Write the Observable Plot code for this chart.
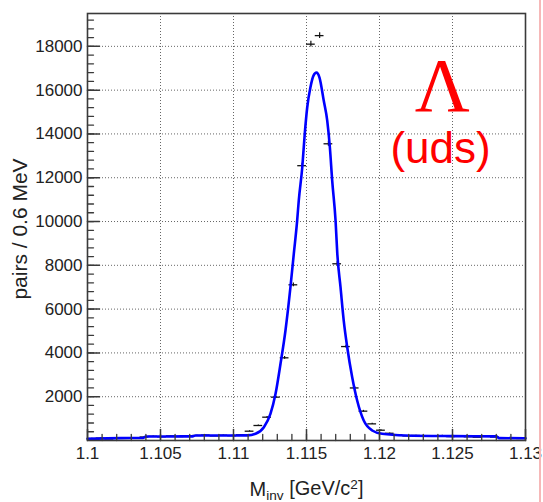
<!DOCTYPE html>
<html><head><meta charset="utf-8">
<script src="https://cdn.jsdelivr.net/npm/d3@7"></script>
<script src="https://cdn.jsdelivr.net/npm/@observablehq/plot@0.6"></script>
<style>
html,body{margin:0;padding:0;background:#fff;}
#chart{position:relative;width:543px;height:502px;overflow:hidden;}
#edge{position:absolute;left:539px;top:0;width:2px;height:502px;background:#f6b8b8;}
</style></head><body>
<div id="chart"></div>
<script>
// Histogram bins (GeV) and counts per 0.6 MeV
const binCenters = [1.1003,1.1009,1.1015,1.1021,1.1027,1.1033,1.1039,1.1045,1.1051,1.1057,
  1.1063,1.1069,1.1075,1.1081,1.1087,1.1093,1.1099,1.1105,1.1111,1.1117,
  1.1123,1.1129,1.1135,1.1141,1.1147,1.1153,1.1159,1.1165,1.1171,1.1177,
  1.1183,1.1189,1.1195,1.1201,1.1207,1.1213,1.1219,1.1225,1.1231,1.1237,
  1.1243,1.1249,1.1255,1.1261,1.1267,1.1273,1.1279,1.1285,1.1291,1.1297];
const binCounts = [90,110,70,120,100,130,160,190,170,210,
  180,200,230,250,210,240,220,260,425,685,
  1065,1980,3776,7110,12550,18100,18490,13550,8070,4290,
  2400,1340,760,470,330,260,210,230,190,200,
  220,180,210,170,150,190,160,120,110,90];
const binWidth = 0.0006;

// Fit curve
const fitX = [1.1000,1.1023,1.1038,1.1040,1.1072,1.1074,1.1098,1.11094,1.11151,1.11208,
  1.11253,1.11288,1.11322,1.11356,1.11390,1.11413,1.11436,1.11447,1.11471,1.11488,
  1.11505,1.11527,1.11548,1.11568,1.11589,1.11618,1.11642,1.11660,1.11676,1.11699,
  1.11711,1.11733,1.11755,1.11779,1.11813,1.11847,1.11892,1.11950,1.12018,1.12178,
  1.1250,1.1280,1.1282,1.1300];
const fitY = [78,110,115,180,190,228,230,232,306,607,
  1219,2132,3502,5023,7000,8525,10045,10958,12479,14004,
  15219,16132,16666,16800,16575,15524,14611,13392,11872,10045,
  8525,7000,5479,4260,2890,1826,913,457,306,228,
  200,190,110,100];

const xTicks = [1.1,1.105,1.11,1.115,1.12,1.125,1.13];
const xTickLabels = ["1.1","1.105","1.11","1.115","1.12","1.125","1.13"];
const yTicks = [2000,4000,6000,8000,10000,12000,14000,16000,18000];
const yTickLabels = ["2000","4000","6000","8000","10000","12000","14000","16000","18000"];
const xMinorTicks = d3.range(1, 30).map(k => +(1.1 + k*0.001).toFixed(4));
const yMinorTicks = d3.range(1, 49).map(k => k*400);

const yTitle = "pairs / 0.6 MeV";
const xTitle = "Minv [GeV/c2]";
const particle = "Λ";
const quarks = "(uds)";

const points = binCenters.map((x, i) => ({x, y: binCounts[i]}));
const fit = fitX.map((x, i) => ({x, y: fitY[i]}));

// plain line shape for inward axis ticks
const tickLine = {draw(context, l) { context.moveTo(0, 0); context.lineTo(0, -l); }};

const axisColor = "#3a3a3a";
const plot = Plot.plot({
  width: 543, height: 502,
  marginLeft: 87, marginRight: 18, marginTop: 13, marginBottom: 62,
  style: {fontFamily: "'Liberation Sans', Arial, sans-serif", background: "#fff", color: "#222"},
  x: {domain: [1.1, 1.13]},
  y: {domain: [0, 19500]},
  marks: [
    Plot.gridX(xTicks.slice(1, -1), {stroke: "#333", strokeOpacity: 0.75, strokeDasharray: "1,2"}),
    Plot.gridY(yTicks, {stroke: "#333", strokeOpacity: 0.75, strokeDasharray: "1,2"}),
    Plot.ruleY(points, {y: "y", x1: d => d.x - binWidth/2, x2: d => d.x + binWidth/2, stroke: "#111", strokeWidth: 1.3}),
    Plot.ruleX(points, {x: "x", y1: d => d.y - Math.sqrt(d.y), y2: d => d.y + Math.sqrt(d.y), stroke: "#111", strokeWidth: 1.2}),
    Plot.line(fit, {x: "x", y: "y", stroke: "#0000ff", strokeWidth: 2.6, curve: "monotone-x"}),
    Plot.vector(yTicks, {y: d => d, frameAnchor: "left", rotate: 90, length: 12, anchor: "start", shape: tickLine, stroke: axisColor, strokeWidth: 1.5}),
    Plot.vector(yMinorTicks, {y: d => d, frameAnchor: "left", rotate: 90, length: 6, anchor: "start", shape: tickLine, stroke: axisColor, strokeWidth: 1.3}),
    Plot.vector(xTicks, {x: d => d, frameAnchor: "bottom", rotate: 0, length: 11, anchor: "start", shape: tickLine, stroke: axisColor, strokeWidth: 1.5}),
    Plot.vector(xMinorTicks, {x: d => d, frameAnchor: "bottom", rotate: 0, length: 6, anchor: "start", shape: tickLine, stroke: axisColor, strokeWidth: 1.3}),
    Plot.axisY(yTicks, {tickSize: 0, tickPadding: 5, fontSize: 17, label: null, fill: "#222", tickFormat: d => yTickLabels[yTicks.indexOf(d)]}),
    Plot.axisX(xTicks, {tickSize: 0, tickPadding: 6, fontSize: 17, label: null, fill: "#222", tickFormat: d => xTickLabels[xTicks.indexOf(d)]}),
    Plot.frame({stroke: axisColor, strokeWidth: 1.6}),
    Plot.text([yTitle], {frameAnchor: "left", textAnchor: "middle", rotate: -90, dx: -67, dy: 2, fontSize: 21, fill: "#222"}),
    Plot.text([xTitle], {frameAnchor: "bottom", dy: 55, lineAnchor: "bottom", fontSize: 20, fill: "#222"}),
    Plot.text([particle], {x: 1.1243, y: 15050, lineAnchor: "bottom", fontSize: 76, fontFamily: "'Liberation Serif', 'Times New Roman', serif", fill: "#ff0000"}),
    Plot.text([quarks], {x: 1.12418, y: 12650, lineAnchor: "bottom", fontSize: 44, fill: "#ff0000"})
  ]
});

// Subscript / superscript for the x title
const svgNS = "http://www.w3.org/2000/svg";
for (const t of plot.querySelectorAll("text")) {
  if (t.textContent === xTitle) {
    t.textContent = "";
    const parts = [["M", {}], ["inv", {dy: "0.35em", "font-size": "0.68em"}], [" [GeV/c", {dy: "-0.24em"}], ["2", {dy: "-0.5em", "font-size": "0.68em"}], ["]", {dy: "0.34em"}]];
    for (const [s, attrs] of parts) {
      const ts = document.createElementNS(svgNS, "tspan");
      for (const k in attrs) ts.setAttribute(k, attrs[k]);
      ts.textContent = s;
      t.appendChild(ts);
    }
  }
}

const chart = document.getElementById("chart");
chart.appendChild(plot);
const edge = document.createElement("div");
edge.id = "edge";
chart.appendChild(edge);
</script>
</body></html>
